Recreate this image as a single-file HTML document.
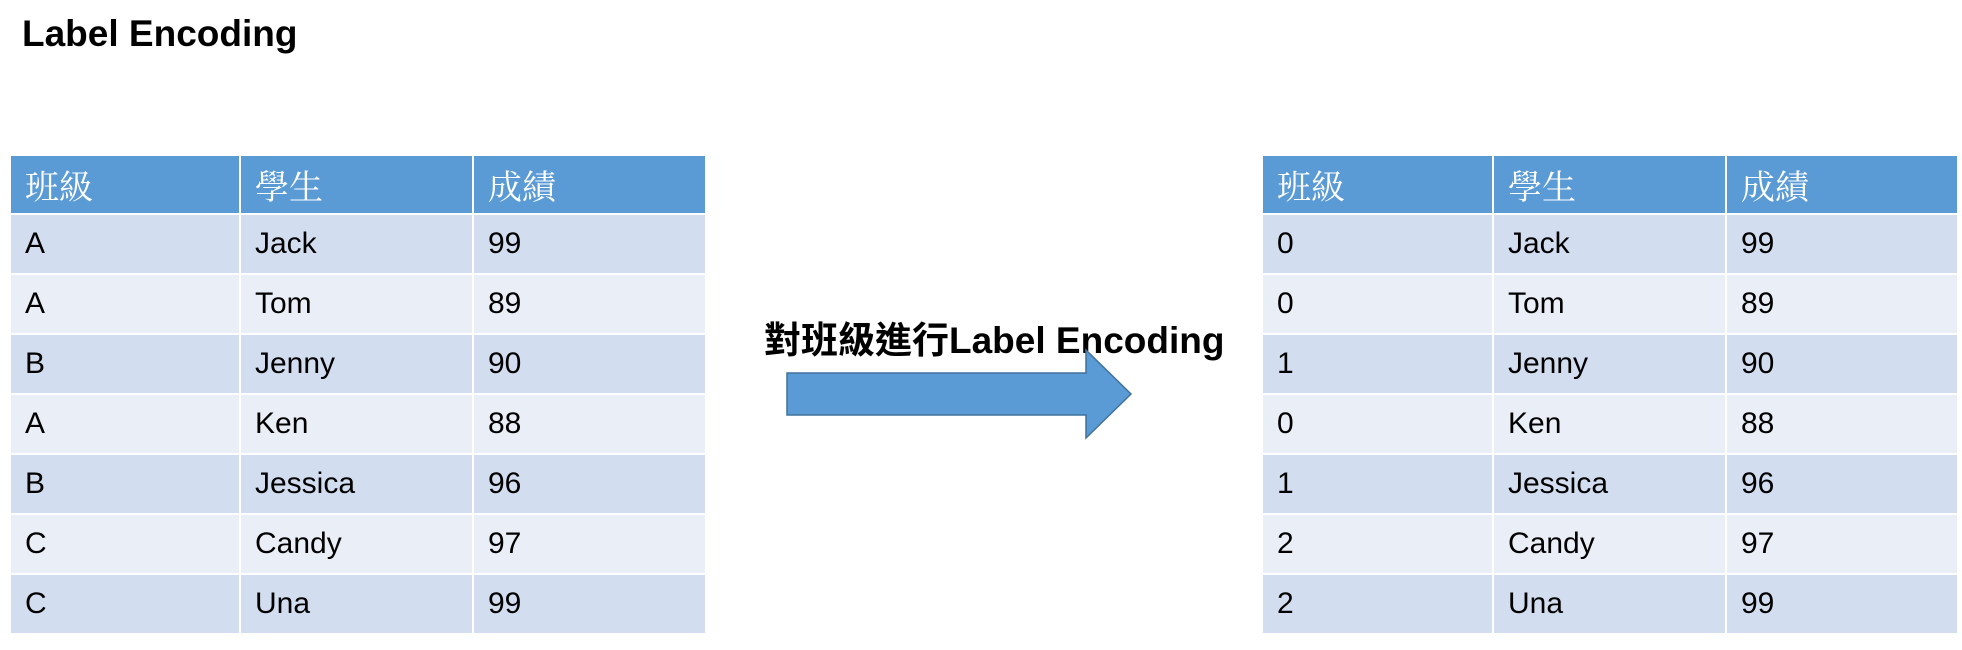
<!DOCTYPE html>
<html><head><meta charset="utf-8"><style>
body{margin:0;width:1962px;height:650px;background:#fff;position:relative;overflow:hidden;font-family:"Liberation Sans","Noto Sans CJK TC",sans-serif}
.t{position:absolute;border-collapse:collapse;table-layout:fixed}
.t td{border:2px solid #fff;padding:0 0 0 14px;height:58px;font-size:30px;color:#000;font-family:"Liberation Sans","Noto Sans CJK TC",sans-serif}
.t tr.h td{background:#5B9BD5;color:#fff;font-family:"Liberation Serif","Noto Serif CJK SC",serif;font-size:34px;height:57px}
.t tr.o td{background:#D2DEEF}
.t tr.e td{background:#EAEFF7}
</style></head><body>
<div style="position:absolute;left:22px;top:13px;font-size:37px;font-weight:bold">Label Encoding</div>
<table class="t" style="left:9px;top:154px;width:696px">
<colgroup><col style="width:230px"><col style="width:233px"><col style="width:233px"></colgroup>
<tr class="h"><td>班級</td><td>學生</td><td>成績</td></tr>
<tr class="o"><td>A</td><td>Jack</td><td>99</td></tr>
<tr class="e"><td>A</td><td>Tom</td><td>89</td></tr>
<tr class="o"><td>B</td><td>Jenny</td><td>90</td></tr>
<tr class="e"><td>A</td><td>Ken</td><td>88</td></tr>
<tr class="o"><td>B</td><td>Jessica</td><td>96</td></tr>
<tr class="e"><td>C</td><td>Candy</td><td>97</td></tr>
<tr class="o"><td>C</td><td>Una</td><td>99</td></tr>
</table>
<table class="t" style="left:1261px;top:154px;width:696px">
<colgroup><col style="width:231px"><col style="width:233px"><col style="width:232px"></colgroup>
<tr class="h"><td>班級</td><td>學生</td><td>成績</td></tr>
<tr class="o"><td>0</td><td>Jack</td><td>99</td></tr>
<tr class="e"><td>0</td><td>Tom</td><td>89</td></tr>
<tr class="o"><td>1</td><td>Jenny</td><td>90</td></tr>
<tr class="e"><td>0</td><td>Ken</td><td>88</td></tr>
<tr class="o"><td>1</td><td>Jessica</td><td>96</td></tr>
<tr class="e"><td>2</td><td>Candy</td><td>97</td></tr>
<tr class="o"><td>2</td><td>Una</td><td>99</td></tr>
</table>
<div style="position:absolute;left:764px;top:310px;font-size:37px;font-weight:bold;white-space:nowrap">對班級進行Label Encoding</div>
<svg style="position:absolute;left:0;top:0" width="1962" height="650">
<polygon points="787,373 1086,373 1086,350 1131,394 1086,438 1086,415 787,415" fill="#5B9BD5" stroke="#41719C" stroke-width="1.5"/>
</svg>
</body></html>
